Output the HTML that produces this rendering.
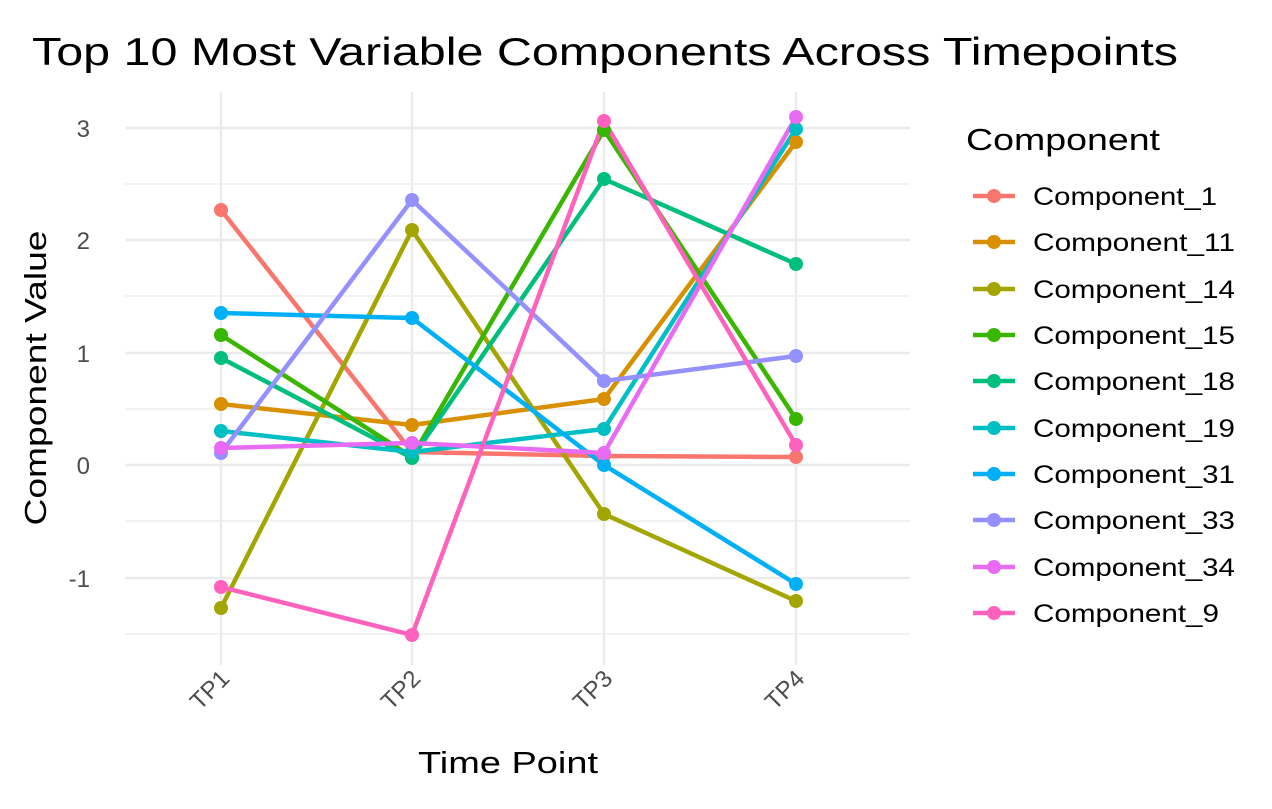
<!DOCTYPE html>
<html><head><meta charset="utf-8"><style>body{margin:0;background:#fff}</style></head><body>
<svg width="1272" height="804" xmlns="http://www.w3.org/2000/svg" font-family="Liberation Sans, sans-serif">
<rect width="1272" height="804" fill="#fff"/>
<g stroke="#ebebeb" stroke-width="1.2">
<line x1="125" x2="910" y1="184" y2="184"/><line x1="125" x2="910" y1="296" y2="296"/><line x1="125" x2="910" y1="409" y2="409"/><line x1="125" x2="910" y1="521" y2="521"/><line x1="125" x2="910" y1="634" y2="634"/>
</g>
<g stroke="#ebebeb" stroke-width="2.4">
<line x1="125" x2="910" y1="128" y2="128"/><line x1="125" x2="910" y1="240" y2="240"/><line x1="125" x2="910" y1="353" y2="353"/><line x1="125" x2="910" y1="465" y2="465"/><line x1="125" x2="910" y1="578" y2="578"/>
<line x1="221" x2="221" y1="92" y2="665"/><line x1="412" x2="412" y1="92" y2="665"/><line x1="604" x2="604" y1="92" y2="665"/><line x1="796" x2="796" y1="92" y2="665"/>
</g>
<g font-size="24" fill="#4d4d4d" text-anchor="end">
<text x="90" y="137">3</text><text x="90" y="249">2</text><text x="90" y="362">1</text><text x="90" y="474">0</text><text x="90" y="587">-1</text>
</g>
<g font-size="24" fill="#4d4d4d" text-anchor="end">
<text transform="translate(231,680) rotate(-45)">TP1</text>
<text transform="translate(422,680) rotate(-45)">TP2</text>
<text transform="translate(614,680) rotate(-45)">TP3</text>
<text transform="translate(806,680) rotate(-45)">TP4</text>
</g>
<g fill="none" stroke-width="4.5" stroke-linejoin="round">
<polyline stroke="#F8766D" points="221,210 412,452 604,456 796,457"/>
<polyline stroke="#D89000" points="221,404 412,425 604,399 796,142"/>
<polyline stroke="#A3A500" points="221,608 412,230 604,514 796,601"/>
<polyline stroke="#39B600" points="221,335 412,457 604,130 796,419"/>
<polyline stroke="#00BF7D" points="221,358 412,458 604,179 796,264"/>
<polyline stroke="#00BFC4" points="221,431 412,452 604,429 796,129"/>
<polyline stroke="#00B0F6" points="221,313 412,318 604,465 796,584"/>
<polyline stroke="#9590FF" points="221,453 412,200 604,381 796,356"/>
<polyline stroke="#E76BF3" points="221,448 412,443 604,453 796,117"/>
<polyline stroke="#FF62BC" points="221,587 412,635 604,121 796,445"/>
</g>
<g>
<g fill="#F8766D"><circle cx="221" cy="210" r="7"/><circle cx="412" cy="452" r="7"/><circle cx="604" cy="456" r="7"/><circle cx="796" cy="457" r="7"/></g>
<g fill="#D89000"><circle cx="221" cy="404" r="7"/><circle cx="412" cy="425" r="7"/><circle cx="604" cy="399" r="7"/><circle cx="796" cy="142" r="7"/></g>
<g fill="#A3A500"><circle cx="221" cy="608" r="7"/><circle cx="412" cy="230" r="7"/><circle cx="604" cy="514" r="7"/><circle cx="796" cy="601" r="7"/></g>
<g fill="#39B600"><circle cx="221" cy="335" r="7"/><circle cx="412" cy="457" r="7"/><circle cx="604" cy="130" r="7"/><circle cx="796" cy="419" r="7"/></g>
<g fill="#00BF7D"><circle cx="221" cy="358" r="7"/><circle cx="412" cy="458" r="7"/><circle cx="604" cy="179" r="7"/><circle cx="796" cy="264" r="7"/></g>
<g fill="#00BFC4"><circle cx="221" cy="431" r="7"/><circle cx="412" cy="452" r="7"/><circle cx="604" cy="429" r="7"/><circle cx="796" cy="129" r="7"/></g>
<g fill="#00B0F6"><circle cx="221" cy="313" r="7"/><circle cx="412" cy="318" r="7"/><circle cx="604" cy="465" r="7"/><circle cx="796" cy="584" r="7"/></g>
<g fill="#9590FF"><circle cx="221" cy="453" r="7"/><circle cx="412" cy="200" r="7"/><circle cx="604" cy="381" r="7"/><circle cx="796" cy="356" r="7"/></g>
<g fill="#E76BF3"><circle cx="221" cy="448" r="7"/><circle cx="412" cy="443" r="7"/><circle cx="604" cy="453" r="7"/><circle cx="796" cy="117" r="7"/></g>
<g fill="#FF62BC"><circle cx="221" cy="587" r="7"/><circle cx="412" cy="635" r="7"/><circle cx="604" cy="121" r="7"/><circle cx="796" cy="445" r="7"/></g>
</g>
<text x="32" y="65" font-size="39" textLength="1146" lengthAdjust="spacingAndGlyphs" fill="#000">Top 10 Most Variable Components Across Timepoints</text>
<text x="508" y="773" font-size="31" text-anchor="middle" textLength="180" lengthAdjust="spacingAndGlyphs" fill="#000">Time Point</text>
<text transform="translate(46,378) rotate(-90)" font-size="31" text-anchor="middle" textLength="295" lengthAdjust="spacingAndGlyphs" fill="#000">Component Value</text>
<text x="966" y="150" font-size="31" textLength="194" lengthAdjust="spacingAndGlyphs" fill="#000">Component</text>
<g stroke-width="4.5">
<line x1="973" x2="1015" y1="196" y2="196" stroke="#F8766D"/><circle cx="994" cy="196" r="7" fill="#F8766D"/>
<line x1="973" x2="1015" y1="242" y2="242" stroke="#D89000"/><circle cx="994" cy="242" r="7" fill="#D89000"/>
<line x1="973" x2="1015" y1="289" y2="289" stroke="#A3A500"/><circle cx="994" cy="289" r="7" fill="#A3A500"/>
<line x1="973" x2="1015" y1="335" y2="335" stroke="#39B600"/><circle cx="994" cy="335" r="7" fill="#39B600"/>
<line x1="973" x2="1015" y1="381" y2="381" stroke="#00BF7D"/><circle cx="994" cy="381" r="7" fill="#00BF7D"/>
<line x1="973" x2="1015" y1="428" y2="428" stroke="#00BFC4"/><circle cx="994" cy="428" r="7" fill="#00BFC4"/>
<line x1="973" x2="1015" y1="474" y2="474" stroke="#00B0F6"/><circle cx="994" cy="474" r="7" fill="#00B0F6"/>
<line x1="973" x2="1015" y1="520" y2="520" stroke="#9590FF"/><circle cx="994" cy="520" r="7" fill="#9590FF"/>
<line x1="973" x2="1015" y1="567" y2="567" stroke="#E76BF3"/><circle cx="994" cy="567" r="7" fill="#E76BF3"/>
<line x1="973" x2="1015" y1="613" y2="613" stroke="#FF62BC"/><circle cx="994" cy="613" r="7" fill="#FF62BC"/>
</g>
<g font-size="25" fill="#000">
<text x="1033" y="205" textLength="184" lengthAdjust="spacingAndGlyphs">Component_1</text>
<text x="1033" y="251" textLength="202" lengthAdjust="spacingAndGlyphs">Component_11</text>
<text x="1033" y="298" textLength="202" lengthAdjust="spacingAndGlyphs">Component_14</text>
<text x="1033" y="344" textLength="202" lengthAdjust="spacingAndGlyphs">Component_15</text>
<text x="1033" y="390" textLength="202" lengthAdjust="spacingAndGlyphs">Component_18</text>
<text x="1033" y="437" textLength="202" lengthAdjust="spacingAndGlyphs">Component_19</text>
<text x="1033" y="483" textLength="202" lengthAdjust="spacingAndGlyphs">Component_31</text>
<text x="1033" y="529" textLength="202" lengthAdjust="spacingAndGlyphs">Component_33</text>
<text x="1033" y="576" textLength="202" lengthAdjust="spacingAndGlyphs">Component_34</text>
<text x="1033" y="622" textLength="186" lengthAdjust="spacingAndGlyphs">Component_9</text>
</g>
</svg>
</body></html>
